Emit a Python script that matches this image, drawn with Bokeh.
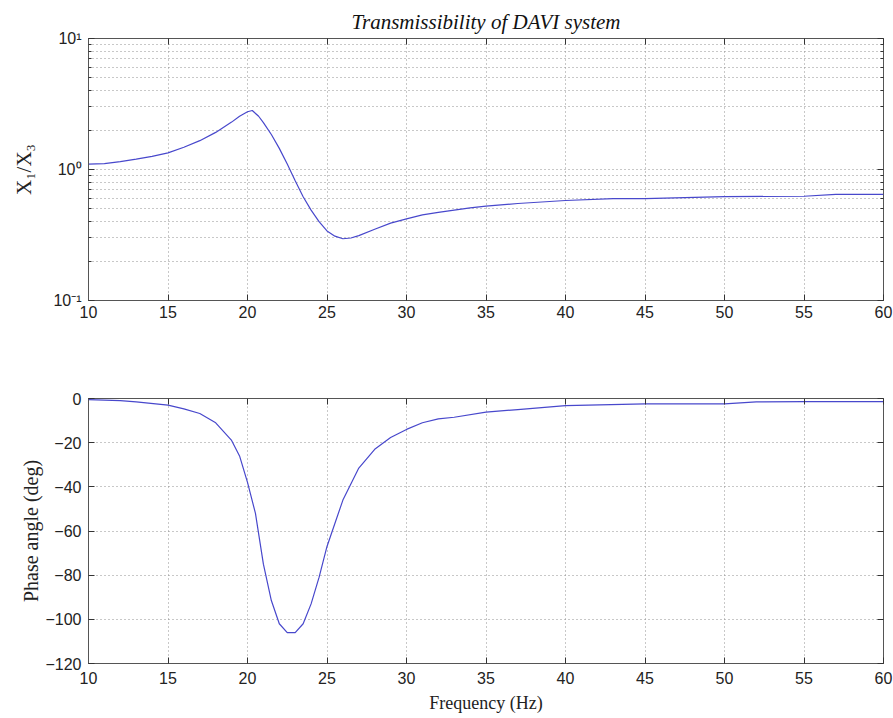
from bokeh.plotting import figure
from bokeh.layouts import column
from bokeh.models import FixedTicker, LogAxis, LinearAxis, CustomJSTickFormatter
from bokeh.embed import file_html
from bokeh.resources import INLINE

# ---- data ----
freq_mag = [10, 11, 12, 13, 14, 15, 16, 17, 18, 19, 19.5, 20, 20.3, 20.7, 21, 21.5, 22, 22.5,
            23, 23.5, 24, 24.5, 25, 25.5, 26, 26.5, 27, 28, 29, 30, 31, 32, 33, 34, 35, 37,
            40, 43, 45, 50, 55, 57, 60]
mag = [1.10, 1.11, 1.15, 1.20, 1.26, 1.34, 1.48, 1.66, 1.92, 2.30, 2.55, 2.76, 2.82, 2.55, 2.28,
       1.85, 1.45, 1.10, 0.82, 0.62, 0.49, 0.40, 0.34, 0.31, 0.296, 0.30, 0.313, 0.35, 0.39,
       0.42, 0.45, 0.47, 0.49, 0.51, 0.525, 0.55, 0.58, 0.60, 0.60, 0.62, 0.625, 0.645, 0.645]

freq_ph = [10, 12, 13, 15, 16, 17, 18, 19, 19.5, 20, 20.5, 21, 21.5, 22, 22.5, 23, 23.5, 24,
           24.5, 25, 25.5, 26, 27, 28, 29, 30, 31, 32, 33, 35, 37, 40, 45, 50, 52, 55, 60]
phase = [-0.5, -1, -1.5, -3, -4.7, -6.8, -11, -19, -26, -38, -52, -75, -91.5, -102, -106, -106,
         -102, -93, -81, -67, -56.5, -46, -31.5, -23, -17.7, -14, -11, -9.2, -8.5, -6.2, -5,
         -3.2, -2.4, -2.4, -1.5, -1.4, -1.4]

x_ticks = [10, 15, 20, 25, 30, 35, 40, 45, 50, 55, 60]
mag_ticks = [0.1, 1, 10]
mag_minor = [0.2, 0.3, 0.4, 0.5, 0.6, 0.7, 0.8, 0.9, 2, 3, 4, 5, 6, 7, 8, 9]
phase_ticks = [-120, -100, -80, -60, -40, -20, 0]

title_text = "Transmissibility of DAVI system"
mag_label = "X\u2081/X\u2083"
phase_label = "Phase angle (deg)"
x_label = "Frequency (Hz)"

LINE = "#4848cc"
GRID = "#909090"
SERIF = "Liberation Serif"
SANS = "Liberation Sans"
EMPTY = CustomJSTickFormatter(code="return ''")


def style_axis(ax):
    ax.axis_line_color = "#555555"
    ax.major_tick_in = 6
    ax.major_tick_out = 0
    ax.minor_tick_in = 3
    ax.minor_tick_out = 0
    ax.major_tick_line_color = "#333333"
    ax.minor_tick_line_color = "#333333"
    ax.major_label_text_font = SANS
    ax.major_label_text_font_size = "16px"
    ax.major_label_text_color = "#222222"
    ax.axis_label_text_font = SERIF
    ax.axis_label_text_font_size = "18px"
    ax.axis_label_text_font_style = "normal"
    ax.axis_label_text_color = "#222222"


# ---- top: magnitude ----
p1 = figure(x_range=(10, 60), y_range=(0.1, 10), y_axis_type="log",
            frame_width=795, frame_height=262,
            min_border_left=88, min_border_right=10, min_border_top=38, min_border_bottom=40,
            output_backend="svg", toolbar_location=None, title=title_text)
p1.title.align = "center"
p1.title.text_font = SERIF
p1.title.text_font_style = "italic"
p1.title.text_font_size = "21px"
p1.title.text_color = "#111111"
p1.title.offset = 0
p1.line(freq_mag, mag, line_color=LINE, line_width=1.2)

p1.xaxis.ticker = FixedTicker(ticks=x_ticks)
p1.yaxis.ticker = FixedTicker(ticks=mag_ticks, minor_ticks=mag_minor)
p1.yaxis.formatter = CustomJSTickFormatter(code="""
const m = {'0.1': '10\u207b\u00b9', '1': '10\u2070', '10': '10\u00b9'};
return m[String(tick)] || '';
""")
p1.yaxis.axis_label = mag_label
style_axis(p1.xaxis[0])
style_axis(p1.yaxis[0])
p1.xaxis.major_label_standoff = 5
p1.yaxis.major_label_standoff = 7
p1.yaxis.axis_label_standoff = 14
p1.yaxis.axis_label_text_font_size = "21px"

top1 = LinearAxis(ticker=FixedTicker(ticks=x_ticks), formatter=EMPTY)
right1 = LogAxis(ticker=FixedTicker(ticks=mag_ticks, minor_ticks=mag_minor), formatter=EMPTY)
for ax in (top1, right1):
    style_axis(ax)
    ax.axis_line_color = None
    ax.major_label_standoff = 0
p1.add_layout(top1, "above")
p1.add_layout(right1, "right")

for g in (p1.xgrid[0], p1.ygrid[0]):
    g.grid_line_color = GRID
    g.grid_line_dash = "1 3"
    g.grid_line_width = 1
p1.ygrid[0].minor_grid_line_color = GRID
p1.ygrid[0].minor_grid_line_dash = "1 3"
p1.outline_line_color = "#555555"

# ---- bottom: phase ----
p2 = figure(x_range=(10, 60), y_range=(-120, 0),
            frame_width=795, frame_height=265,
            min_border_left=88, min_border_right=10, min_border_top=58, min_border_bottom=50,
            output_backend="svg", toolbar_location=None)
p2.line(freq_ph, phase, line_color=LINE, line_width=1.2)
p2.xaxis.ticker = FixedTicker(ticks=x_ticks)
p2.yaxis.ticker = FixedTicker(ticks=phase_ticks)
p2.xaxis.axis_label = x_label
p2.yaxis.axis_label = phase_label
style_axis(p2.xaxis[0])
style_axis(p2.yaxis[0])
p2.xaxis.major_label_standoff = 8
p2.xaxis.axis_label_standoff = 6
p2.yaxis.major_label_standoff = 7
p2.yaxis.axis_label_standoff = 0
p2.yaxis.axis_label_text_font_size = "20px"
p2.xaxis.minor_tick_in = 0
p2.yaxis.minor_tick_in = 0

top2 = LinearAxis(ticker=FixedTicker(ticks=x_ticks), formatter=EMPTY)
right2 = LinearAxis(ticker=FixedTicker(ticks=phase_ticks), formatter=EMPTY)
for ax in (top2, right2):
    style_axis(ax)
    ax.axis_line_color = None
    ax.major_label_standoff = 0
    ax.minor_tick_in = 0
p2.add_layout(top2, "above")
p2.add_layout(right2, "right")

for g in (p2.xgrid[0], p2.ygrid[0]):
    g.grid_line_color = GRID
    g.grid_line_dash = "1 3"
    g.grid_line_width = 1
p2.outline_line_color = "#555555"

layout = column(p1, p2, spacing=0)
open("out.html", "w").write(file_html(layout, INLINE))
